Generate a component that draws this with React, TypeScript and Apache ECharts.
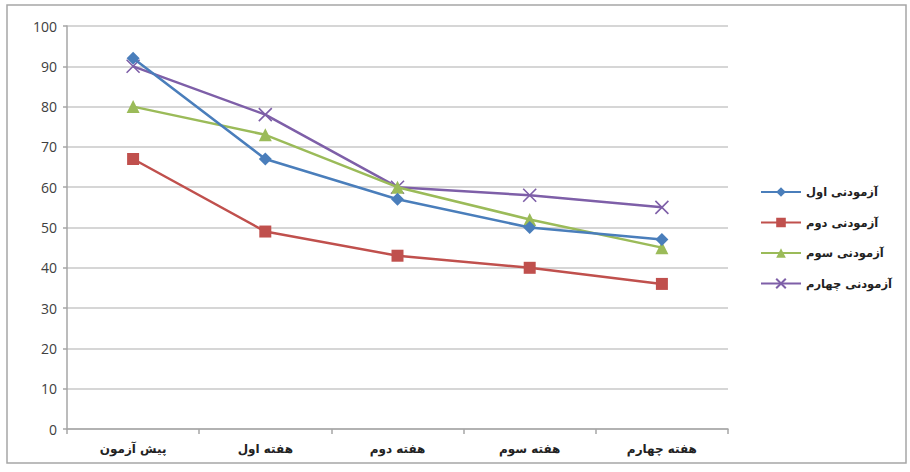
import React, { useEffect, useRef } from "react";
import * as echarts from "echarts";

const categories = ["پیش آزمون", "هفته اول", "هفته دوم", "هفته سوم", "هفته چهارم"];
const seriesNames = ["آزمودنی اول", "آزمودنی دوم", "آزمودنی سوم", "آزمودنی چهارم"];
const subject1 = [92, 67, 57, 50, 47];
const subject2 = [67, 49, 43, 40, 36];
const subject3 = [80, 73, 60, 52, 45];
const subject4 = [90, 78, 60, 58, 55];
const yTicks = [0, 10, 20, 30, 40, 50, 60, 70, 80, 90, 100];

const colors = ["#4A7EBB", "#C0504D", "#9BBB59", "#7E5FA8"];
const symbols = ["diamond", "rect", "triangle", "path://M0,0 L10,10 M10,0 L0,10"];
const symbolSizes = [13, 12, 13, 13];

export default function App() {
  const ref = useRef<HTMLDivElement>(null);
  useEffect(() => {
    if (!ref.current) return;
    const chart = echarts.init(ref.current, null, { renderer: "svg" });
    const data = [subject1, subject2, subject3, subject4];
    const series = data.map((d, i) => ({
      name: seriesNames[i],
      type: "line",
      data: d,
      symbol: symbols[i],
      symbolSize: symbolSizes[i],
      showAllSymbol: true,
      lineStyle: { color: colors[i], width: 2.5 },
      itemStyle:
        i === 3
          ? { color: "rgba(0,0,0,0)", borderColor: colors[i], borderWidth: 1.6 }
          : { color: colors[i], borderWidth: 0 },
      z: 10 - i,
    }));
    chart.setOption({
      animation: false,
      backgroundColor: "#ffffff",
      textStyle: { fontFamily: "DejaVu Sans" },
      graphic: [
        {
          type: "rect",
          shape: { x: 7, y: 5, width: 899, height: 458 },
          style: { fill: "none", stroke: "#A6A6A6", lineWidth: 1.5 },
          silent: true,
          z: -1,
        },
      ],
      grid: { left: 67, right: 182, top: 26, bottom: 43 },
      legend: {
        show: true,
        orient: "vertical",
        left: 755,
        top: 181,
        itemWidth: 40,
        itemHeight: 12,
        itemGap: 18.5,
        textStyle: { fontFamily: "DejaVu Sans", fontSize: 11.5, color: "#222", fontWeight: "bold" },
      },
      xAxis: {
        type: "category",
        data: categories,
        boundaryGap: true,
        axisLine: { lineStyle: { color: "#A6A6A6", width: 1.5 } },
        axisTick: { show: true, alignWithLabel: false, length: 5, lineStyle: { color: "#A6A6A6", width: 1.5 } },
        axisLabel: { fontFamily: "DejaVu Sans", fontSize: 12, color: "#222", margin: 14, fontWeight: "bold" },
      },
      yAxis: {
        type: "value",
        min: yTicks[0],
        max: yTicks[yTicks.length - 1],
        interval: 10,
        axisLine: { show: true, lineStyle: { color: "#A6A6A6", width: 1.5 } },
        axisTick: { show: true, length: 4, lineStyle: { color: "#A6A6A6", width: 1.5 } },
        axisLabel: { fontFamily: "Open Sans", fontSize: 14, color: "#404040", margin: 10 },
        splitLine: { lineStyle: { color: "#C8C8C8", width: 1.5 } },
      },
      series,
    });
    return () => chart.dispose();
  }, []);
  return (
    <div
      ref={ref}
      style={{ position: "absolute", left: 0, top: 0, width: 910, height: 472 }}
    />
  );
}
